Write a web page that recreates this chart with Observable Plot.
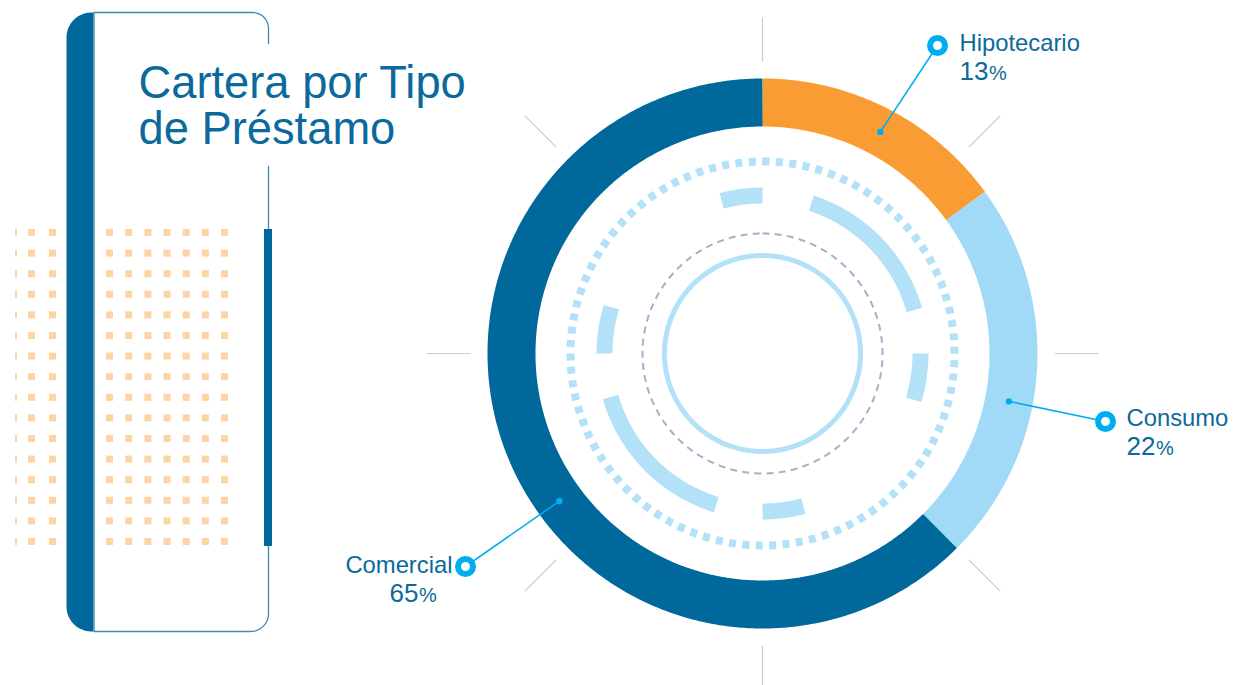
<!DOCTYPE html>
<html><head><meta charset="utf-8">
<script src="https://cdn.jsdelivr.net/npm/d3@7"></script>
<script src="https://cdn.jsdelivr.net/npm/@observablehq/plot@0.6"></script>
<style>html,body{margin:0;padding:0;background:#fff;overflow:hidden} svg{display:block}</style>
</head><body><div id="chart"></div>
<script>
// ---- data ----
const categories = ["Hipotecario", "Consumo", "Comercial"];
const arcShares = [15, 22.5, 62.5];       // share of the ring drawn for each category (as read from the ring)
const percentLabels = [13, 22, 65];       // printed percentages
const colors = ["#f89c33", "#a0daf7", "#00689a"];
const titleLines = ["Cartera por Tipo", "de Préstamo"];

// ---- layout ----
const W = 1235, H = 685;
const C = {x: 762, y: 353};
const ring = {r: 251, w: 48};
const labelLayout = {
  Hipotecario: {angle: 28,  marker: [937, 45],  tx: 959,  ty: 50.5,  anchor: "start"},
  Consumo:     {angle: 101, marker: [1105, 421], tx: 1126, ty: 425.5, anchor: "start"},
  Comercial:   {angle: 234, marker: [465, 566],  tx: 452,  ty: 572.5, anchor: "end", nx: 389}
};
const textColor = "#0b6a9b", cyan = "#00aeef", lightBlue = "#b3e2f8", dark = "#00689a";
const font = "Liberation Sans, Arial, sans-serif";

const rad = a => a * Math.PI / 180;
const pt = (a, r, c = C) => ({x: c.x + r * Math.sin(rad(a)), y: c.y - r * Math.cos(rad(a))});
const arc = (a0, a1, r, c = C, step = 0.5) =>
  d3.range(0, Math.ceil((a1 - a0) / step) + 1).map(i => pt(Math.min(a0 + i * step, a1), r, c));

// ring segments from shares
let acc = 0;
const segs = categories.map((c, i) => {
  const a0 = acc / 100 * 360; acc += arcShares[i];
  return {c, a0, a1: acc / 100 * 360, color: colors[i]};
});

// decorative inner arcs (degrees clockwise from top)
const innerArcs = [[345, 360], [18, 74], [90, 107], [165, 180], [197, 254], [270, 287]];
const tickDirs = d3.range(0, 360, 45);

// left box shapes
const bar = [{x: 93, y: 12}, {x: 93, y: 631},
  ...arc(180, 270, 25, {x: 91, y: 606}, 3),
  ...arc(270, 360, 25, {x: 91, y: 37}, 3)];
const outline = [{x: 268, y: 166}, {x: 268, y: 613},
  ...arc(90, 180, 18, {x: 250, y: 613}, 3),
  {x: 93.5, y: 631}, {x: 93.5, y: 12},
  ...arc(0, 90, 16, {x: 252, y: 28}, 3),
  {x: 268, y: 43}];

// dot grid
const dotCols = [{x: 15, w: 2}, {x: 28, w: 7}, {x: 49, w: 7}, ...d3.range(7).map(k => ({x: 106 + k * 19.17, w: 7}))];
const dotRows = d3.range(16).map(k => 229 + k * 20.6);
const dots = dotRows.flatMap(y => dotCols.map(c => ({x1: c.x, x2: c.x + c.w, y1: y, y2: y + 7})));

// labels
const labels = categories.map((c, i) => {
  const L = labelLayout[c];
  const p = pt(L.angle, ring.r);
  const nx = L.nx ?? L.tx;
  return {c, pct: percentLabels[i], px: p.x, py: p.y, mx: L.marker[0], my: L.marker[1],
          tx: L.tx, ty: L.ty, anchor: L.anchor, nx, ny: L.ty + 28.5};
});
const labelsStart = labels.filter(d => d.anchor === "start");
const labelsEnd = labels.filter(d => d.anchor === "end");

const chart = Plot.plot({
  width: W, height: H, margin: 0,
  x: {domain: [0, W], range: [0, W], axis: null},
  y: {domain: [0, H], range: [0, H], axis: null},
  style: {fontFamily: font, background: "#fff"},
  marks: [
    Plot.rect(dots, {x1: "x1", x2: "x2", y1: "y1", y2: "y2", fill: "#fdd4a4"}),
    Plot.line(bar, {x: "x", y: "y", fill: dark, stroke: "none"}),
    Plot.line(outline, {x: "x", y: "y", stroke: "#3f89b3", strokeWidth: 1.3}),
    Plot.rect([{x1: 264, x2: 272, y1: 229, y2: 546}], {x1: "x1", x2: "x2", y1: "y1", y2: "y2", fill: dark}),
    Plot.text(titleLines.map((t, i) => ({t, y: 97 + i * 46})), {x: 138, y: "y", text: "t", textAnchor: "start",
      lineAnchor: "bottom", fontSize: 45.3, fill: textColor, fontFamily: font}),
    // ticks
    Plot.link(tickDirs, {x1: a => pt(a, 292).x, y1: a => pt(a, 292).y, x2: a => pt(a, 336).x, y2: a => pt(a, 336).y,
      stroke: "#c6cedd", strokeWidth: 1.2}),
    // main ring
    ...segs.map(s => Plot.line(arc(s.a0, s.a1, ring.r), {x: "x", y: "y", stroke: s.color, strokeWidth: ring.w,
      strokeLinecap: "butt", strokeLinejoin: "round"})),
    // decorative inner rings
    Plot.line(arc(0, 360, 192), {x: "x", y: "y", stroke: lightBlue, strokeWidth: 8, strokeDasharray: "7 6.4",
      strokeLinecap: "butt", strokeLinejoin: "miter"}),
    ...innerArcs.map(([a0, a1]) => Plot.line(arc(a0, a1, 158), {x: "x", y: "y", stroke: lightBlue, strokeWidth: 16,
      strokeLinecap: "butt"})),
    Plot.line(arc(0, 360, 120), {x: "x", y: "y", stroke: "#a5b1c6", strokeWidth: 2, strokeDasharray: "7 5.2",
      strokeLinecap: "butt"}),
    Plot.line(arc(0, 360, 98), {x: "x", y: "y", stroke: lightBlue, strokeWidth: 5}),
    // leaders
    Plot.link(labels, {x1: "px", y1: "py", x2: "mx", y2: "my", stroke: cyan, strokeWidth: 1.6}),
    Plot.dot(labels, {x: "px", y: "py", r: 3.2, fill: cyan}),
    Plot.dot(labels, {x: "mx", y: "my", r: 7.5, fill: "#fff", stroke: cyan, strokeWidth: 6}),
    // label texts
    Plot.text(labelsStart, {x: "tx", y: "ty", text: "c", textAnchor: "start", lineAnchor: "bottom",
      fontSize: 23.8, fill: textColor, fontFamily: font}),
    Plot.text(labelsEnd, {x: "tx", y: "ty", text: "c", textAnchor: "end", lineAnchor: "bottom",
      fontSize: 23.8, fill: textColor, fontFamily: font}),
    Plot.text(labels, {x: "nx", y: "ny", text: d => String(d.pct), textAnchor: "start", lineAnchor: "bottom",
      fontSize: 26, fill: textColor, fontFamily: font}),
    Plot.text(labels, {x: d => d.nx + 29.5, y: "ny", text: () => "%", textAnchor: "start", lineAnchor: "bottom",
      fontSize: 20, fill: textColor, fontFamily: font})
  ]
});
document.getElementById("chart").appendChild(chart);
</script>
</body></html>
